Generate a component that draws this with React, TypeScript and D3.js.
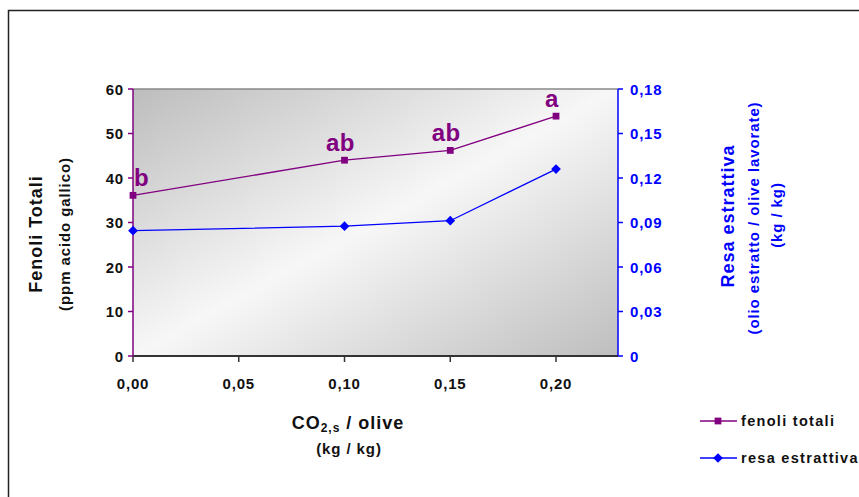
import React from 'react';
import * as d3 from 'd3';

const ratio = [0, 0.1, 0.15, 0.2];
const fenoli = [36.1, 44.0, 46.2, 53.9];
const resa = [0.0845, 0.0875, 0.0912, 0.126];
const letters = ['b', 'ab', 'ab', 'a'];
const xTicks = [0, 0.05, 0.1, 0.15, 0.2];
const leftTicks = [0, 10, 20, 30, 40, 50, 60];
const rightTicks = [0, 0.03, 0.06, 0.09, 0.12, 0.15, 0.18];

const PURPLE = '#800080';
const BLUE = '#0000ff';
const FONT = '"Liberation Sans", Arial, sans-serif';

const left = 133;
const right = 618;
const top = 89;
const bottom = 356;

const App = () => {
  const x = d3.scaleLinear().domain([0, 0.2293]).range([left, right]);
  const yL = d3.scaleLinear().domain([0, 60]).range([bottom, top]);
  const yR = d3.scaleLinear().domain([0, 0.18]).range([bottom, top]);
  const comma = (f: string) => (v: number) => d3.format(f)(v).replace('.', ',');

  const lineF = d3.line<number>().x((_, i) => x(ratio[i])).y(d => yL(d));
  const lineR = d3.line<number>().x((_, i) => x(ratio[i])).y(d => yR(d));
  const diamond = d3.symbol().type(d3.symbolDiamond2).size(60)();
  const square = d3.symbol().type(d3.symbolSquare).size(46)();

  // text styles (reference text is wide, so letter spacing is used)
  const tick = { fontSize: 15, fontWeight: 'bold', letterSpacing: 0.8 } as const;
  const big = { fontSize: 18, fontWeight: 'bold', letterSpacing: 1 } as const;
  const small = { fontSize: 15, fontWeight: 'bold', letterSpacing: 0.9 } as const;
  const leg = { fontSize: 14.5, fontWeight: 'bold', letterSpacing: 1.3 } as const;

  return (
    <svg width={859} height={497} style={{ position: 'absolute', left: 0, top: 0, fontFamily: FONT }}>
      <defs>
        <linearGradient id="bg" x1="0" y1="0" x2="1" y2="1">
          <stop offset="0" stopColor="#bdbdbd" />
          <stop offset="0.5" stopColor="#f7f7f7" />
          <stop offset="1" stopColor="#bebebe" />
        </linearGradient>
      </defs>
      <rect x={0} y={0} width={859} height={497} fill="#fff" />
      <rect x={8.5} y={10.5} width={880} height={520} fill="none" stroke="#222" strokeWidth={1.5} />

      {/* plot area */}
      <rect x={left} y={top} width={right - left} height={bottom - top} fill="url(#bg)" />
      <line x1={left} x2={right} y1={top} y2={top} stroke="#888" strokeWidth={1.5} />
      <line x1={left} x2={right} y1={bottom} y2={bottom} stroke="#333" strokeWidth={2} />
      <line x1={left} x2={left} y1={top} y2={bottom} stroke={PURPLE} strokeWidth={1.5} />
      <line x1={right} x2={right} y1={top} y2={bottom} stroke={BLUE} strokeWidth={1.5} />

      {xTicks.map(t => (
        <g key={'x' + t}>
          <line x1={x(t)} x2={x(t)} y1={bottom} y2={bottom + 6} stroke="#333" strokeWidth={1.5} />
          <text x={x(t)} y={389} textAnchor="middle" {...tick} fill="#111">
            {comma('.2f')(t)}
          </text>
        </g>
      ))}
      {leftTicks.map(t => (
        <g key={'l' + t}>
          <line x1={left - 5} x2={left} y1={yL(t)} y2={yL(t)} stroke={PURPLE} strokeWidth={1.5} />
          <text x={124} y={yL(t) + 5.5} textAnchor="end" {...tick} fill="#111">
            {t}
          </text>
        </g>
      ))}
      {rightTicks.map(t => (
        <g key={'r' + t}>
          <line x1={right} x2={right + 5} y1={yR(t)} y2={yR(t)} stroke={BLUE} strokeWidth={1.5} />
          <text x={630} y={yR(t) + 5.5} textAnchor="start" {...tick} fill={BLUE}>
            {t === 0 ? '0' : comma('.2f')(t)}
          </text>
        </g>
      ))}

      {/* series */}
      <path d={lineR(resa) || ''} fill="none" stroke={BLUE} strokeWidth={1.3} />
      {resa.map((v, i) => (
        <path key={'rm' + i} d={diamond || ''} transform={`translate(${x(ratio[i])},${yR(v)})`} fill={BLUE} />
      ))}
      <path d={lineF(fenoli) || ''} fill="none" stroke={PURPLE} strokeWidth={1.3} />
      {fenoli.map((v, i) => (
        <path key={'fm' + i} d={square || ''} transform={`translate(${x(ratio[i])},${yL(v)})`} fill={PURPLE} />
      ))}
      {fenoli.map((v, i) => (
        <text
          key={'lab' + i}
          x={x(ratio[i]) + (i === 0 ? 1 : -4)}
          y={yL(v) - 9}
          textAnchor={i === 0 ? 'start' : 'middle'}
          fontSize={24}
          fontWeight="bold"
          letterSpacing={0.5}
          fill={PURPLE}
        >
          {letters[i]}
        </text>
      ))}

      {/* axis titles */}
      <text transform="translate(42,234) rotate(-90)" textAnchor="middle" {...big} fill="#111">
        Fenoli Totali
      </text>
      <text transform="translate(70,234) rotate(-90)" textAnchor="middle" {...small} fill="#111">
        (ppm acido gallico)
      </text>
      <text transform="translate(734,216) rotate(-90)" textAnchor="middle" {...big} fill={BLUE}>
        Resa estrattiva
      </text>
      <text transform="translate(759,218) rotate(-90)" textAnchor="middle" {...small} fill={BLUE}>
        (olio estratto / olive lavorate)
      </text>
      <text transform="translate(782,215) rotate(-90)" textAnchor="middle" {...small} fill={BLUE}>
        (kg / kg)
      </text>
      <text x={348} y={429} textAnchor="middle" {...big} fill="#111">
        CO<tspan fontSize={12} dy={3}>2,s</tspan>
        <tspan dy={-3}> / olive</tspan>
      </text>
      <text x={349} y={454} textAnchor="middle" {...small} fill="#111">
        (kg / kg)
      </text>

      {/* legend */}
      <line x1={700} x2={737} y1={421} y2={421} stroke={PURPLE} strokeWidth={1.3} />
      <path d={square || ''} transform="translate(718,421)" fill={PURPLE} />
      <text x={741} y={426} {...leg} fill="#111">fenoli totali</text>
      <line x1={700} x2={737} y1={458} y2={458} stroke={BLUE} strokeWidth={1.3} />
      <path d={diamond || ''} transform="translate(718,458)" fill={BLUE} />
      <text x={741} y={463} {...leg} fill="#111">resa estrattiva</text>
    </svg>
  );
};

export default App;
